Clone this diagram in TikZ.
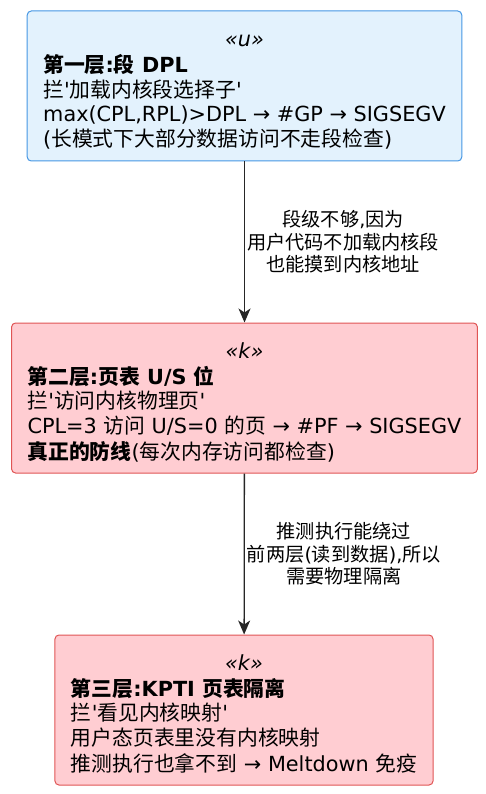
\documentclass[tikz,border=0pt]{standalone}
\usepackage{fontspec}
\usetikzlibrary{arrows.meta}
\newfontfamily\dejavu{DejaVu Sans}
\newfontfamily\cjk{Noto Sans CJK SC}
\newcommand{\zh}[1]{{\cjk #1}}
\newcommand{\stereo}[1]{\multicolumn{1}{@{}c@{}}{\itshape «#1»}}
\definecolor{userfill}{HTML}{E3F2FD}
\definecolor{userdraw}{HTML}{4596E4}
\definecolor{kernfill}{HTML}{FFCDD2}
\definecolor{kerndraw}{HTML}{E05555}
\tikzset{
    > = {Stealth[length=14pt, width=12pt, inset=4pt]},
    layer/.style = {draw, rounded corners=4pt, line width=1pt, inner xsep=16pt,
        minimum height=150pt, font=\dejavu\fontsize{20.8}{24.5}\selectfont},
    userbox/.style = {layer, draw=userdraw, fill=userfill},
    kernbox/.style = {layer, draw=kerndraw, fill=kernfill},
    link/.style = {->, line width=1.3pt, draw=black!85},
    why/.style = {right, inner sep=2pt, align=center,
        font=\dejavu\fontsize{19.2}{22.6}\selectfont}
}

\begin{document}
\begin{tikzpicture}[x=1pt, y=-1pt]
    \useasboundingbox (0,0) rectangle (486,794);

    \node[userbox] (dpl) at (244.5,86) {\begin{tabular}{@{}l@{}}
        \stereo{u}\\
        \textbf{\zh{第一层}:\zh{段} DPL}\\
        \zh{拦}'\zh{加载内核段选择子}'\\
        max(CPL,RPL)>DPL → \#GP → SIGSEGV\\
        (\zh{长模式下大部分数据访问不走段检查})\\[-12pt]
    \end{tabular}};
    \node[kernbox] (us) at (244.5,398) {\begin{tabular}{@{}l@{}}
        \stereo{k}\\
        \textbf{\zh{第二层}:\zh{页表} U/S \zh{位}}\\
        \zh{拦}'\zh{访问内核物理页}'\\
        CPL=3 \zh{访问} U/S=0 \zh{的页} → \#PF → SIGSEGV\\
        \textbf{\zh{真正的防线}}(\zh{每次内存访问都检查})\\[-12pt]
    \end{tabular}};
    \node[kernbox] (kpti) at (244,710) {\begin{tabular}{@{}l@{}}
        \stereo{k}\\
        \textbf{\zh{第三层}:KPTI \zh{页表隔离}}\\
        \zh{拦}'\zh{看见内核映射}'\\
        \zh{用户态页表里没有内核映射}\\
        \zh{推测执行也拿不到} → Meltdown \zh{免疫}\\[-12pt]
    \end{tabular}};

    \draw (dpl) edge[link] node[why]{\zh{段级不够},\zh{因为}\\
        \zh{用户代码不加载内核段}\\\zh{也能摸到内核地址}} (us);
    \draw (us) edge[link] node[why]{\zh{推测执行能绕过}\\
        \zh{前两层}(\zh{读到数据}),\zh{所以}\\\zh{需要物理隔离}} (kpti);
\end{tikzpicture}
\end{document}
